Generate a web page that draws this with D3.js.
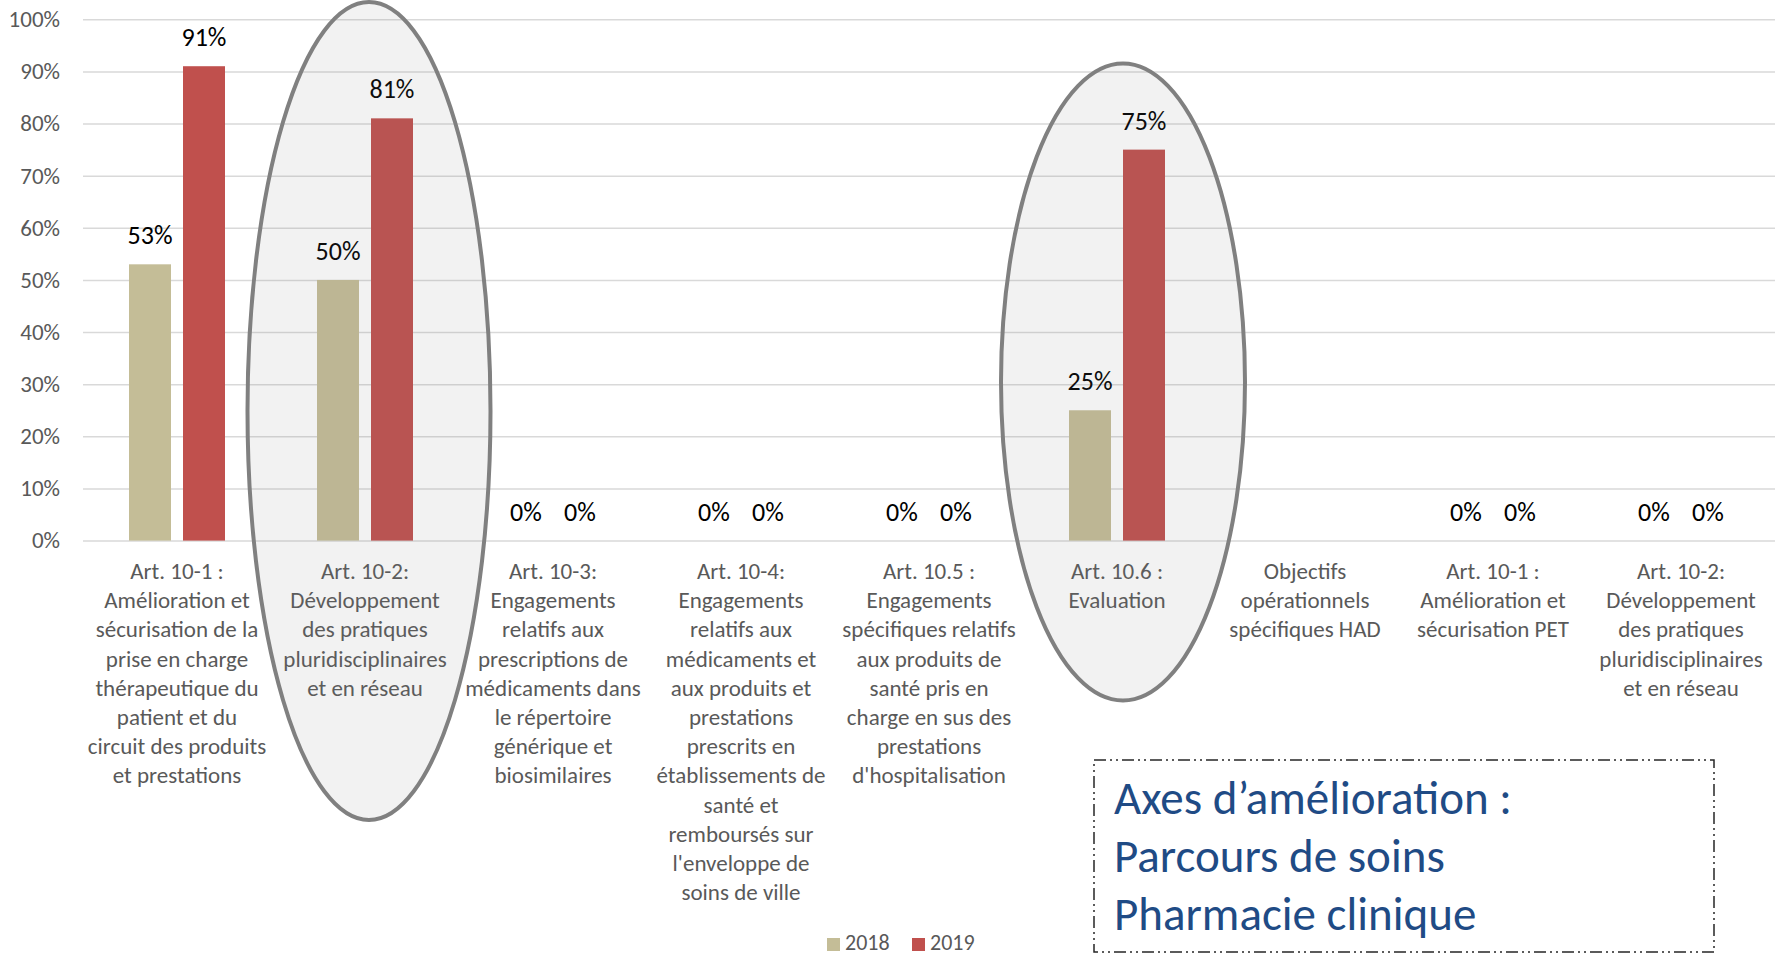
<!DOCTYPE html>
<html>
<head>
<meta charset="utf-8">
<script src="https://cdn.jsdelivr.net/npm/d3@7"></script>
<style>
  body { margin: 0; background: #fff; }
  svg text { font-family: Carlito, Calibri, Lato, sans-serif; }
</style>
</head>
<body>
<div id="chart"></div>
<script>
// categories, one array of lines per label (wrapped as in the original)
var categories = [
  ["Art. 10-1 :", "Amélioration et", "sécurisation de la", "prise en charge", "thérapeutique du", "patient et du", "circuit des produits", "et prestations"],
  ["Art. 10-2:", "Développement", "des pratiques", "pluridisciplinaires", "et en réseau"],
  ["Art. 10-3:", "Engagements", "relatifs aux", "prescriptions de", "médicaments dans", "le répertoire", "générique et", "biosimilaires"],
  ["Art. 10-4:", "Engagements", "relatifs aux", "médicaments et", "aux produits et", "prestations", "prescrits en", "établissements de", "santé et", "remboursés sur", "l'enveloppe de", "soins de ville"],
  ["Art. 10.5 :", "Engagements", "spécifiques relatifs", "aux produits de", "santé pris en", "charge en sus des", "prestations", "d'hospitalisation"],
  ["Art. 10.6 :", "Evaluation"],
  ["Objectifs", "opérationnels", "spécifiques HAD"],
  ["Art. 10-1 :", "Amélioration et", "sécurisation PET"],
  ["Art. 10-2:", "Développement", "des pratiques", "pluridisciplinaires", "et en réseau"]
];
var seriesNames = ["2018", "2019"];
var values2018 = [0.53, 0.50, 0, 0, 0, 0.25, null, 0, 0];
var values2019 = [0.91, 0.81, 0, 0, 0, 0.75, null, 0, 0];
var yTickValues = [0, 0.1, 0.2, 0.3, 0.4, 0.5, 0.6, 0.7, 0.8, 0.9, 1];
var highlighted = [1, 5]; // categories circled
var boxLines = ["Axes d\u2019amélioration :", "Parcours de soins", "Pharmacie clinique"];

var colors = { "2018": "#c4bd97", "2019": "#c0504d" };
var width = 1781, height = 957;
var plotLeft = 83, plotRight = 1775, plotTop = 19.3, plotBottom = 540.6;

var svg = d3.select('#chart').append('svg')
  .attr('width', width)
  .attr('height', height);

var x0 = d3.scaleBand()
  .domain(d3.range(categories.length))
  .range([plotLeft, plotRight]);
var x1 = d3.scaleBand()
  .domain(seriesNames)
  .range([0, 96])
  .paddingInner(12 / 54);
var y = d3.scaleLinear().domain([0, 1]).range([plotBottom, plotTop]);

// gridlines + y axis labels
var yAxis = d3.axisLeft(y)
  .tickValues(yTickValues)
  .tickSize(-(plotRight - plotLeft))
  .tickPadding(23)
  .tickFormat(d3.format('.0%'));
var gy = svg.append('g')
  .attr('transform', 'translate(' + plotLeft + ',0)')
  .call(yAxis);
gy.select('.domain').remove();
gy.selectAll('line').attr('stroke', '#d9d9d9').attr('stroke-width', 1.5);
gy.selectAll('text')
  .attr('fill', '#595959')
  .style('font-size', '23px');

// bars
var rows = categories.map(function(c, i) {
  return { i: i, vals: [
    { key: "2018", v: values2018[i] },
    { key: "2019", v: values2019[i] }
  ]};
});
var groups = svg.append('g').selectAll('g.cat')
  .data(rows)
  .enter().append('g')
  .attr('class', 'cat')
  .attr('transform', function(d) {
    return 'translate(' + (x0(d.i) + x0.bandwidth() / 2 - 48) + ',0)';
  });

var items = groups.selectAll('g.bar')
  .data(function(d) { return d.vals.filter(function(v) { return v.v !== null; }); })
  .enter().append('g').attr('class', 'bar');

items.append('rect')
  .attr('x', function(d) { return x1(d.key); })
  .attr('width', x1.bandwidth())
  .attr('y', function(d) { return y(d.v); })
  .attr('height', function(d) { return y(0) - y(d.v); })
  .attr('fill', function(d) { return colors[d.key]; });

items.append('text')
  .attr('x', function(d) { return x1(d.key) + x1.bandwidth() / 2; })
  .attr('y', function(d) { return y(d.v) - 20; })
  .attr('text-anchor', 'middle')
  .attr('fill', '#000')
  .style('font-size', '26px')
  .text(function(d) { return Math.round(d.v * 100) + '%'; });

// category labels
var labels = svg.append('g').selectAll('text.cat')
  .data(categories)
  .enter().append('text')
  .attr('class', 'cat')
  .attr('text-anchor', 'middle')
  .attr('fill', '#595959')
  .style('font-size', '23px')
  .attr('transform', function(d, i) {
    return 'translate(' + (x0(i) + x0.bandwidth() / 2) + ',579)';
  });
labels.selectAll('tspan')
  .data(function(d) { return d; })
  .enter().append('tspan')
  .attr('x', 0)
  .attr('dy', function(d, j) { return j === 0 ? 0 : 29.2; })
  .text(function(d) { return d; });

// legend
var legend = svg.append('g').selectAll('g.leg')
  .data(seriesNames)
  .enter().append('g')
  .attr('transform', function(d, i) { return 'translate(' + (827 + i * 85) + ',938)'; });
legend.append('rect')
  .attr('width', 13).attr('height', 13)
  .attr('fill', function(d) { return colors[d]; });
legend.append('text')
  .attr('x', 18).attr('y', 12)
  .attr('fill', '#595959')
  .style('font-size', '22px')
  .text(function(d) { return d; });

// highlight ellipses, drawn over the chart with a translucent fill
var ellipseShapes = [
  { cx: x0(highlighted[0]) + x0.bandwidth() / 2 + 4, cy: 411, rx: 121.5, ry: 409 },
  { cx: x0(highlighted[1]) + x0.bandwidth() / 2 + 6, cy: 382, rx: 122, ry: 318.6 }
];
svg.append('g').selectAll('ellipse')
  .data(ellipseShapes)
  .enter().append('ellipse')
  .attr('cx', function(d) { return d.cx; })
  .attr('cy', function(d) { return d.cy; })
  .attr('rx', function(d) { return d.rx; })
  .attr('ry', function(d) { return d.ry; })
  .attr('fill', 'rgba(127,127,127,0.1)')
  .attr('stroke', '#808080')
  .attr('stroke-width', 4);

// annotation box
var box = svg.append('g').attr('transform', 'translate(1094,760)');
box.append('rect')
  .attr('width', 620).attr('height', 192)
  .attr('fill', 'none')
  .attr('stroke', '#262626')
  .attr('stroke-width', 1.5)
  .attr('stroke-dasharray', '12,4,2,4,2,4');
box.selectAll('text')
  .data(boxLines)
  .enter().append('text')
  .attr('x', 20)
  .attr('y', function(d, i) { return 54 + i * 58; })
  .attr('fill', '#1f4b85')
  .style('font-size', '47px')
  .text(function(d) { return d; });
</script>
</body>
</html>
